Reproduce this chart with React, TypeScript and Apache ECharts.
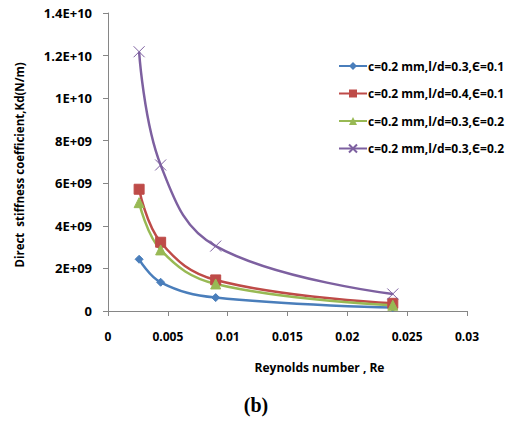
import React, { useEffect, useRef } from "react";
import * as echarts from "echarts";

const reynolds = [0.0026, 0.0044, 0.009, 0.0238];
const seriesNames = [
  "c=0.2 mm,l/d=0.3,Є=0.1",
  "c=0.2 mm,l/d=0.4,Є=0.1",
  "c=0.2 mm,l/d=0.3,Є=0.2",
  "c=0.2 mm,l/d=0.3,Є=0.2 ",
];
const kdBlue = [2.43e9, 1.35e9, 0.63e9, 0.16e9];
const kdRed = [5.72e9, 3.23e9, 1.46e9, 0.36e9];
const kdGreen = [5.09e9, 2.87e9, 1.27e9, 0.27e9];
const kdPurple = [12.18e9, 6.86e9, 3.05e9, 0.8e9];
const colors = ["#4A7EBB", "#BE4B48", "#98B954", "#7D60A0"];
const symbols = ["diamond", "rect", "triangle", "path://M0,0L10,10M10,0L0,10"];
const symbolSizes = [8, 10, 10, 11];

function sci(v: number): string {
  if (v === 0) return "0";
  const e = Math.floor(Math.log10(Math.abs(v)) + 1e-9);
  const m = Math.round((v / Math.pow(10, e)) * 100) / 100;
  const es = (e < 10 ? "0" : "") + e;
  return `${m}E+${es}`;
}

export default function App() {
  const ref = useRef<HTMLDivElement>(null);
  useEffect(() => {
    document.body.style.margin = "0";
    const chart = echarts.init(ref.current!, null, { renderer: "svg" });
    const all = [kdBlue, kdRed, kdGreen, kdPurple];
    const font = "'Open Sans', sans-serif";
    chart.setOption({
      animation: false,
      backgroundColor: "#ffffff",
      grid: { left: 108, right: 43, top: 13, bottom: 112, containLabel: false },
      title: {
        text: "(b)",
        left: 251,
        top: 390,
        textAlign: "center",
        textStyle: { fontFamily: "'Liberation Serif', serif", fontWeight: "bold", fontSize: 20, color: "#000" },
      },
      legend: {
        orient: "vertical",
        left: 333,
        top: 55,
        itemGap: 15.5,
        itemWidth: 28,
        itemHeight: 10,
        formatter: (n: string) => n.trim(),
        textStyle: { fontFamily: font, fontSize: 12, fontWeight: "bold", color: "#000", padding: [0, 0, 0, -4] },
        data: seriesNames.map((n) => ({ name: n })),
      },
      xAxis: {
        type: "value",
        min: 0,
        max: 0.03,
        interval: 0.005,
        name: "Reynolds number , Re",
        nameLocation: "middle",
        nameGap: 50,
        nameTextStyle: { fontFamily: font, fontSize: 12, fontWeight: "bold", color: "#000", padding: [0, 0, 0, 64] },
        axisLine: { lineStyle: { color: "#868686", width: 1 } },
        axisTick: { show: true, length: 5, lineStyle: { color: "#868686" } },
        splitLine: { show: false },
        axisLabel: {
          margin: 19,
          fontFamily: font,
          fontSize: 12,
          fontWeight: "bold",
          color: "#000",
          formatter: (v: number) => String(Math.round(v * 1000) / 1000),
        },
      },
      yAxis: {
        type: "value",
        min: 0,
        max: 1.4e10,
        interval: 2e9,
        name: "Direct  stiffness coefficient,Kd(N/m)",
        nameLocation: "middle",
        nameGap: 83,
        nameTextStyle: { fontFamily: font, fontSize: 11.5, fontWeight: "bold", color: "#000", padding: [0, 6, 0, 0] },
        axisLine: { show: true, lineStyle: { color: "#868686", width: 1 } },
        axisTick: { show: true, length: 5, lineStyle: { color: "#868686" } },
        splitLine: { show: false },
        axisLabel: {
          margin: 16,
          fontFamily: font,
          fontSize: 13,
          fontWeight: "bold",
          color: "#000",
          formatter: sci,
        },
      },
      series: all.map((vals, i) => ({
        name: seriesNames[i],
        type: "line",
        smooth: 0.4,
        data: reynolds.map((x, j) => [x, vals[j]]),
        symbol: symbols[i],
        symbolSize: symbolSizes[i],
        lineStyle: { color: colors[i], width: 2.5 },
        itemStyle:
          i === 3
            ? { color: "rgba(0,0,0,0)", borderColor: colors[i], borderWidth: 1 }
            : { color: colors[i], borderColor: colors[i] },
        emphasis: { disabled: true },
      })),
    });
    return () => chart.dispose();
  }, []);
  return <div ref={ref} style={{ width: 510, height: 423 }} />;
}
